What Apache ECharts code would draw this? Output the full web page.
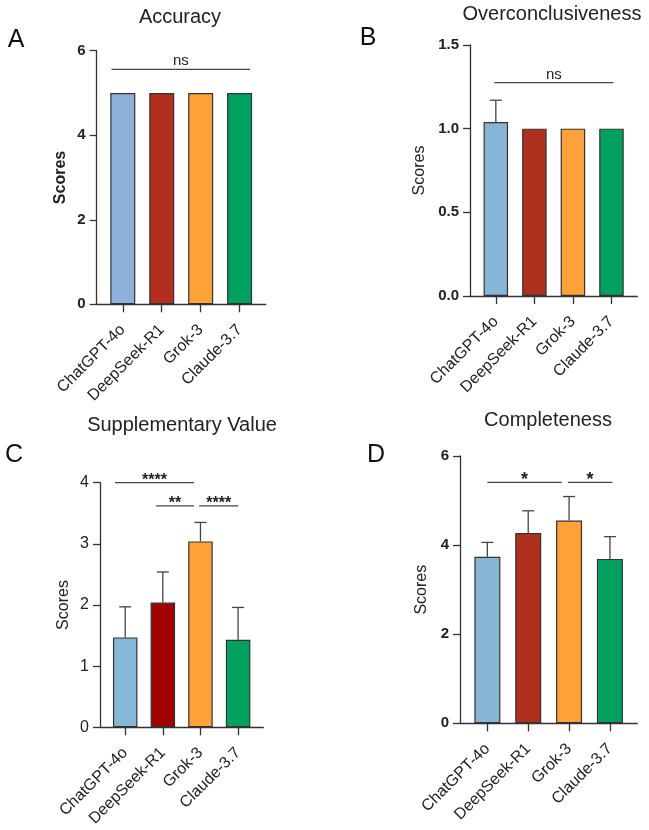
<!DOCTYPE html>
<html>
<head>
<meta charset="utf-8">
<script src="https://cdn.jsdelivr.net/npm/echarts@6.0.0/dist/echarts.min.js"></script>
<style>
html, body { margin: 0; padding: 0; background: #fff; }
#main { width: 649px; height: 830px; }
</style>
</head>
<body>
<div id="main"></div>
<script>
// 模型名称
const models = ['ChatGPT-4o', 'DeepSeek-R1', 'Grok-3', 'Claude-3.7'];

// A: Accuracy
const accuracyMean = [5, 5, 5, 5];
const accuracySd = [0, 0, 0, 0];
const accuracySig = [[-0.29, 3.27, 5.56]];
const accuracySigText = ['ns'];
const accuracyTicks = [0, 6, 2];

// B: Overconclusiveness
const overMean = [1.04, 1, 1, 1];
const overSd = [0.13, 0, 0, 0];
const overSig = [[-0.04, 3.05, 1.275]];
const overSigText = ['ns'];
const overTicks = [0, 1.5, 0.5];

// C: Supplementary Value
const suppMean = [1.47, 2.04, 3.04, 1.43];
const suppSd = [0.5, 0.5, 0.31, 0.53];
const suppSig = [[-0.27, 1.83, 4.0], [0.82, 1.83, 3.62], [1.97, 3.0, 3.62]];
const suppSigText = ['****', '**', '****'];
const suppTicks = [0, 4, 1];

// D: Completeness
const compMean = [3.74, 4.27, 4.55, 3.69];
const compSd = [0.32, 0.5, 0.54, 0.5];
const compSig = [[0.0, 1.82, 5.41], [1.97, 3.06, 5.41]];
const compSigText = ['*', '*'];
const compTicks = [0, 6, 2];

const FONT = '"Liberation Sans", Arial, sans-serif';
const AXIS_COLOR = '#333';

// 各面板的布局与样式
const panels = [
    {
        title: 'Accuracy', letter: 'A', mean: accuracyMean, sd: accuracySd, sig: accuracySig, sigText: accuracySigText, ticks: accuracyTicks,
        grid: { left: 96.7, top: 50.7, width: 169, height: 253.6 },
        colors: ['#8EB1DC', '#B22E1E', '#FFA23A', '#00A05E'],
        barWidth: 25, boldTicks: true, boldName: true, nameGap: 28,
        titlePos: [180, 17], letterPos: [16, 40], sigSize: 15
    },
    {
        title: 'Overconclusiveness', letter: 'B', mean: overMean, sd: overSd, sig: overSig, sigText: overSigText, ticks: overTicks,
        grid: { left: 470, top: 45, width: 167.3, height: 251 },
        colors: ['#87B5D6', '#B0301F', '#FFA23A', '#00A05E'],
        barWidth: 24.5, boldTicks: true, boldName: false, nameGap: 42,
        titlePos: [552, 14], letterPos: [368, 38], sigSize: 15
    },
    {
        title: 'Supplementary Value', letter: 'C', mean: suppMean, sd: suppSd, sig: suppSig, sigText: suppSigText, ticks: suppTicks,
        grid: { left: 100, top: 482.7, width: 163.3, height: 244.6 },
        colors: ['#87B7D8', '#A30000', '#FFA23A', '#00A05E'],
        barWidth: 24.5, boldTicks: false, boldName: false, nameGap: 28,
        titlePos: [182, 425], letterPos: [14, 455], sigSize: 16
    },
    {
        title: 'Completeness', letter: 'D', mean: compMean, sd: compSd, sig: compSig, sigText: compSigText, ticks: compTicks,
        grid: { left: 460, top: 456, width: 177.3, height: 267.3 },
        colors: ['#86B5D6', '#B0301F', '#FFA23A', '#00A05E'],
        barWidth: 26, boldTicks: true, boldName: false, nameGap: 30,
        titlePos: [548, 420], letterPos: [376, 455], sigSize: 18
    }
];

const grids = [];
const xAxes = [];
const yAxes = [];
const series = [];
const graphics = [];

panels.forEach(function(p, idx) {
    grids.push(p.grid);

    xAxes.push({
        type: 'value',
        gridIndex: idx,
        min: -0.67,
        max: 3.67,
        splitLine: { show: false },
        axisLine: { onZero: false, lineStyle: { color: AXIS_COLOR, width: 1.3 } },
        axisTick: { show: true, customValues: [0, 1, 2, 3], length: 8, lineStyle: { color: AXIS_COLOR, width: 1.3 } },
        axisLabel: {
            customValues: [0, 1, 2, 3],
            rotate: 45,
            margin: 23,
            fontSize: 16,
            color: '#222',
            fontFamily: FONT,
            formatter: function(v) { return models[Math.round(v)]; }
        }
    });

    yAxes.push({
        type: 'value',
        gridIndex: idx,
        min: p.ticks[0],
        max: p.ticks[1],
        interval: p.ticks[2],
        name: 'Scores',
        nameLocation: 'middle',
        nameGap: p.nameGap,
        nameTextStyle: { fontSize: 16, fontWeight: p.boldName ? 'bold' : 'normal', color: '#222', fontFamily: FONT },
        splitLine: { show: false },
        axisLine: { show: true, onZero: false, lineStyle: { color: AXIS_COLOR, width: 1.3 } },
        axisTick: { show: true, length: 7, lineStyle: { color: AXIS_COLOR, width: 1.3 } },
        axisLabel: {
            fontSize: p.boldTicks ? 15 : 16,
            fontWeight: p.boldTicks ? 'bold' : 'normal',
            color: '#222',
            margin: 11,
            fontFamily: FONT,
            formatter: function(v) { return p.ticks[1] < 2 ? v.toFixed(1) : String(v); }
        }
    });

    // 柱子
    series.push({
        type: 'bar',
        xAxisIndex: idx,
        yAxisIndex: idx,
        barWidth: p.barWidth,
        data: p.mean.map(function(m, i) {
            return { value: [i, m], itemStyle: { color: p.colors[i] } };
        }),
        itemStyle: { borderColor: '#333', borderWidth: 1.2 },
        z: 2
    });

    // 误差线（仅上方）
    series.push({
        type: 'custom',
        xAxisIndex: idx,
        yAxisIndex: idx,
        data: p.mean.map(function(m, i) { return [i, m, p.sd[i]]; }),
        renderItem: function(params, api) {
            const x = api.value(0), m = api.value(1), e = api.value(2);
            if (!e) return null;
            const p0 = api.coord([x, m]);
            const p1 = api.coord([x, m + e]);
            const st = { stroke: '#444', lineWidth: 1.3 };
            return {
                type: 'group',
                children: [
                    { type: 'line', shape: { x1: p0[0], y1: p0[1], x2: p1[0], y2: p1[1] }, style: st },
                    { type: 'line', shape: { x1: p1[0] - 6, y1: p1[1], x2: p1[0] + 6, y2: p1[1] }, style: st }
                ]
            };
        },
        z: 3
    });

    // 显著性标注
    series.push({
        type: 'custom',
        xAxisIndex: idx,
        yAxisIndex: idx,
        data: p.sig,
        renderItem: function(params, api) {
            const a = api.coord([api.value(0), api.value(2)]);
            const b = api.coord([api.value(1), api.value(2)]);
            const txt = p.sigText[params.dataIndex];
            const isStar = txt.indexOf('*') >= 0;
            return {
                type: 'group',
                children: [
                    { type: 'line', shape: { x1: a[0], y1: a[1], x2: b[0], y2: a[1] }, style: { stroke: '#444', lineWidth: 1.3 } },
                    {
                        type: 'text',
                        style: {
                            text: txt,
                            x: (a[0] + b[0]) / 2,
                            y: a[1] - (isStar ? 2 : 8),
                            textAlign: 'center',
                            textVerticalAlign: 'middle',
                            fontSize: p.sigSize,
                            fontWeight: isStar ? 'bold' : 'normal',
                            fontFamily: FONT,
                            fill: '#222'
                        }
                    }
                ]
            };
        },
        z: 3
    });

    // 标题与面板字母
    graphics.push({
        type: 'text',
        x: p.titlePos[0], y: p.titlePos[1],
        style: { text: p.title, textAlign: 'center', textVerticalAlign: 'middle', fontSize: 20, fontFamily: FONT, fill: '#222' }
    });
    graphics.push({
        type: 'text',
        x: p.letterPos[0], y: p.letterPos[1],
        style: { text: p.letter, textAlign: 'center', textVerticalAlign: 'middle', fontSize: 25, fontFamily: FONT, fill: '#111' }
    });
});

const chart = echarts.init(document.getElementById('main'));
chart.setOption({
    backgroundColor: '#fff',
    animation: false,
    textStyle: { fontFamily: FONT },
    grid: grids,
    xAxis: xAxes,
    yAxis: yAxes,
    series: series,
    graphic: graphics
});
</script>
</body>
</html>
